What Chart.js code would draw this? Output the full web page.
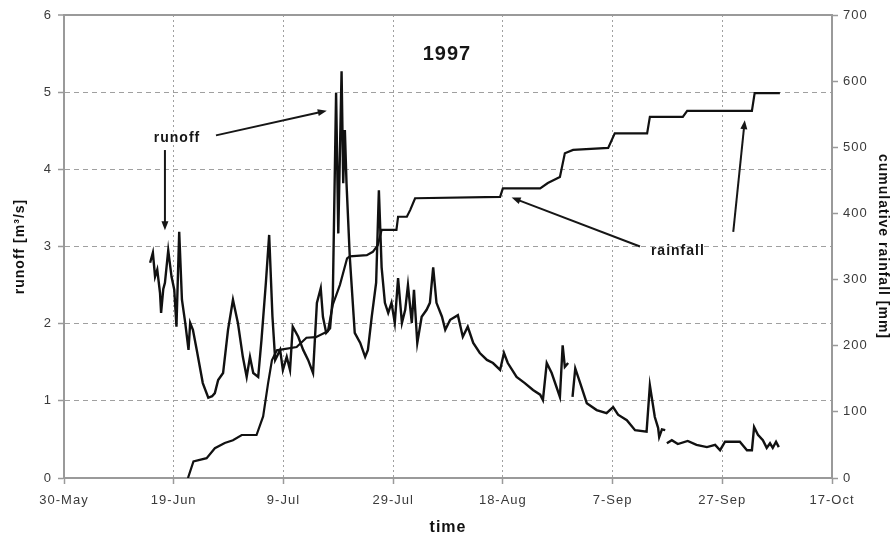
<!DOCTYPE html>
<html>
<head>
<meta charset="utf-8">
<script src="https://cdn.jsdelivr.net/npm/chart.js@4/dist/chart.umd.min.js"></script>
<style>
  html, body { margin: 0; padding: 0; background: #fff; }
  #wrap { position: relative; width: 892px; height: 537px; }
</style>
</head>
<body>
<div id="wrap"><canvas id="chart-runoff"></canvas></div>
<script>
'use strict';

/* ─── Data: days since 30 May 1997 ─────────────────────────── */
const xTickLabels = ['30-May', '19-Jun', '9-Jul', '29-Jul', '18-Aug', '7-Sep', '27-Sep', '17-Oct'];

const runoffDays = [
  15.7, 16.2, 16.6, 17.0, 17.5, 17.7, 18.1, 18.4, 19.0, 19.6,
  20.1, 20.5, 21.0, 21.5, 22.1, 22.7, 23.0, 23.5, 24.2, 25.3,
  26.3, 27.0, 27.5, 28.1, 29.0, 29.9, 30.8, 31.7, 32.6, 33.3,
  33.9, 34.5, 35.4, 36.0, 36.8, 37.4, 38.0, 38.5, 39.4, 39.9,
  40.6, 41.2, 41.7, 42.7, 43.6, 44.5, 45.4, 46.1, 46.8, 47.2,
  47.8, 48.5, 49.0, 49.6, 50.0, 50.6, 50.9, 51.2, 51.5, 52.1,
  53.0, 54.0, 54.9, 55.4, 56.1, 56.9, 57.4, 57.9, 58.5, 59.1,
  59.7, 60.3, 60.9, 61.6, 62.2, 62.7, 63.4, 63.8, 64.4, 65.2,
  66.1, 66.7, 67.3, 67.9, 68.9, 69.5, 70.4, 71.8, 72.7, 73.6,
  74.6, 75.8, 77.1, 78.2, 79.5, 80.2, 80.9, 82.5, 84.0, 85.5,
  86.8, 87.3, 88.0, 88.9, 90.4, 90.9, 91.3, 91.9, 92.3, 92.7,
  93.2, 94.1, 95.3, 97.1, 98.9, 100.1, 101.0, 102.6, 104.1, 106.2,
  106.8, 107.7, 108.3, 108.5, 109.0, 109.6, 109.7, 109.9, 110.8, 111.9,
  113.7, 115.3, 117.2, 118.7, 119.6, 120.5, 121.7, 123.2, 124.5, 125.4,
  125.8, 126.5, 127.4, 128.1, 128.7, 129.2, 129.8, 130.3
];
const runoffValues = [
  2.79, 2.92, 2.61, 2.70, 2.40, 2.14, 2.45, 2.53, 2.95, 2.61,
  2.44, 1.96, 3.19, 2.31, 2.01, 1.66, 2.01, 1.92, 1.66, 1.23,
  1.04, 1.06, 1.10, 1.27, 1.36, 1.92, 2.31, 2.01, 1.57, 1.31,
  1.57, 1.36, 1.31, 1.79, 2.53, 3.15, 2.09, 1.53, 1.66, 1.40,
  1.57, 1.40, 1.96, 1.83, 1.66, 1.53, 1.36, 2.27, 2.46, 2.09,
  1.88, 1.94, 2.35, 4.99, 3.17, 5.27, 3.82, 4.51, 3.82, 2.86,
  1.88, 1.75, 1.57, 1.66, 2.09, 2.53, 3.73, 2.73, 2.27, 2.14,
  2.27, 2.01, 2.59, 2.01, 2.18, 2.50, 2.01, 2.44, 1.75, 2.09,
  2.18, 2.27, 2.73, 2.27, 2.09, 1.92, 2.05, 2.11, 1.83, 1.96,
  1.75, 1.62, 1.53, 1.49, 1.40, 1.62, 1.49, 1.31, 1.23, 1.14,
  1.08, 1.01, 1.49, 1.36, 1.05, 1.72, 1.44, 1.49, null, 1.05,
  1.42, 1.23, 0.97, 0.88, 0.84, 0.92, 0.82, 0.75, 0.62, 0.60,
  1.20, 0.79, 0.65, 0.53, 0.63, 0.62, null, 0.45, 0.49, 0.44,
  0.48, 0.43, 0.40, 0.43, 0.36, 0.47, 0.47, 0.47, 0.36, 0.36,
  0.66, 0.56, 0.49, 0.39, 0.45, 0.39, 0.47, 0.40
];

const rainDays = [
  22.6, 23.6, 26.0, 27.5, 29.3, 30.8, 32.4, 35.1, 36.3, 37.2,
  37.9, 38.8, 42.4, 44.2, 45.9, 48.1, 49.0, 50.3, 51.6, 52.1,
  55.2, 56.3, 57.2, 57.9, 60.6, 60.9, 62.5, 63.1, 64.0, 79.5,
  80.0, 86.8, 88.2, 90.4, 91.3, 92.8, 99.2, 100.4, 106.3, 106.8,
  112.8, 113.6, 125.4, 125.9, 130.5
];
const rainValues = [
  0, 25, 30, 45, 53, 57, 65, 65, 93, 143,
  178, 193, 198, 212, 213, 222, 262, 292, 332, 335,
  337, 342, 352, 375, 375, 395, 395, 405, 423, 425,
  438, 438, 446, 455, 491, 496, 499, 521, 521, 546,
  546, 555, 555, 582, 582
];

/* ─── Callouts (day, axis value) ───────────────────────────── */
const labelNotes = [
  { text: '1997',     day: 69.8,  val: 5.49, axis: 'y',  size: 20 },
  { text: 'runoff',   day: 20.6,  val: 4.41, axis: 'y',  size: 14 },
  { text: 'rainfall', day: 111.9, val: 343,  axis: 'y2', size: 14 },
];
const arrowNotes = [
  { from: [18.4, 4.25],  to: [18.4, 3.21],  axis: 'y'  },
  { from: [27.7, 4.44],  to: [47.9, 4.76],  axis: 'y'  },
  { from: [105.0, 350],  to: [81.6, 424],   axis: 'y2' },
  { from: [122.0, 372],  to: [124.1, 541],  axis: 'y2' },
];

const FONT = "'Liberation Sans', Arial, Helvetica, sans-serif";
const AXIS_GREY = '#9a9a9a';
const GRID_GREY = '#a0a0a0';

const toPoints = (xs, ys) => xs.map((d, i) => ({ x: d, y: ys[i] }));

function drawArrow(ctx, x1, y1, x2, y2) {
  const ang = Math.atan2(y2 - y1, x2 - x1);
  const head = 9, half = 3.5;
  ctx.beginPath();
  ctx.moveTo(x1, y1);
  ctx.lineTo(x2 - Math.cos(ang) * head * 0.8, y2 - Math.sin(ang) * head * 0.8);
  ctx.stroke();
  ctx.beginPath();
  ctx.moveTo(x2, y2);
  ctx.lineTo(x2 - Math.cos(ang) * head - Math.sin(ang) * half,
             y2 - Math.sin(ang) * head + Math.cos(ang) * half);
  ctx.lineTo(x2 - Math.cos(ang) * head + Math.sin(ang) * half,
             y2 - Math.sin(ang) * head - Math.cos(ang) * half);
  ctx.closePath();
  ctx.fill();
}

/* widen all text a little, the old spreadsheet look */
const spacingPlugin = {
  id: 'spacing',
  beforeLayout(chart) { chart.ctx.letterSpacing = '1px'; },
  beforeDraw(chart)   { chart.ctx.letterSpacing = '1px'; },
};

const calloutPlugin = {
  id: 'callouts',
  afterDatasetsDraw(chart) {
    const { ctx, scales } = chart;
    const xs = scales.x;
    ctx.save();
    ctx.fillStyle = '#161616';
    ctx.strokeStyle = '#161616';
    ctx.lineWidth = 2;
    ctx.textAlign = 'center';
    ctx.textBaseline = 'middle';
    labelNotes.forEach(n => {
      ctx.font = `bold ${n.size}px ${FONT}`;
      ctx.fillText(n.text, xs.getPixelForValue(n.day), scales[n.axis].getPixelForValue(n.val));
    });
    arrowNotes.forEach(a => {
      const ys = scales[a.axis];
      drawArrow(ctx,
        xs.getPixelForValue(a.from[0]), ys.getPixelForValue(a.from[1]),
        xs.getPixelForValue(a.to[0]),   ys.getPixelForValue(a.to[1]));
    });
    ctx.restore();
  }
};

Chart.defaults.font.family = FONT;
Chart.defaults.font.size = 13;
Chart.defaults.color = '#3a3a3a';

new Chart(document.getElementById('chart-runoff'), {
  type: 'line',
  data: {
    datasets: [
      {
        label: 'runoff',
        data: toPoints(runoffDays, runoffValues),
        yAxisID: 'y',
        borderColor: '#111',
        borderWidth: 2.4,
        pointRadius: 0,
        tension: 0,
        spanGaps: false,
      },
      {
        label: 'cumulative rainfall',
        data: toPoints(rainDays, rainValues),
        yAxisID: 'y2',
        borderColor: '#111',
        borderWidth: 2.2,
        pointRadius: 0,
        tension: 0,
      },
    ],
  },
  options: {
    responsive: true,
    maintainAspectRatio: false,
    animation: false,
    layout: { padding: { top: 15, left: 0, right: 0, bottom: 0 } },
    plugins: { legend: { display: false }, tooltip: { enabled: false } },
    scales: {
      x: {
        type: 'linear',
        position: 'bottom',
        min: 0,
        max: 140,
        afterFit: s => { s.height = 59; },
        ticks: {
          stepSize: 20,
          autoSkip: false,
          maxRotation: 0,
          padding: 9,
          callback: v => xTickLabels[Math.round(v / 20)],
        },
        grid: { color: GRID_GREY, lineWidth: 1, tickLength: 6, tickColor: AXIS_GREY, tickWidth: 1.5 },
        border: { color: AXIS_GREY, width: 2, dash: [2, 3] },
        title: {
          display: true,
          text: 'time',
          color: '#111',
          font: { size: 16, weight: 'bold' },
          padding: { top: 0, bottom: 0 },
        },
      },
      y: {
        position: 'left',
        min: 0,
        max: 6,
        afterFit: s => { s.width = 64; },
        ticks: { stepSize: 1, padding: 6 },
        grid: {
          color: c => (c.tick && c.tick.value === 6 ? AXIS_GREY : GRID_GREY),
          lineWidth: c => (c.tick && c.tick.value === 6 ? 2 : 1),
          tickLength: 6,
          tickColor: AXIS_GREY,
          tickWidth: 1.5,
        },
        border: {
          color: AXIS_GREY,
          width: 2,
          dash: c => (c.tick && c.tick.value === 6 ? [] : [5, 4]),
        },
        title: {
          display: true,
          text: 'runoff [m³/s]',
          color: '#111',
          font: { size: 14, weight: 'bold' },
          padding: { top: 12, bottom: 0 },
        },
      },
      y2: {
        position: 'right',
        min: 0,
        max: 700,
        afterFit: s => { s.width = 60; },
        ticks: { stepSize: 100, padding: 5 },
        grid: { drawOnChartArea: false, tickLength: 6, tickColor: AXIS_GREY, tickWidth: 1.5 },
        border: { color: AXIS_GREY, width: 2 },
        title: {
          display: true,
          text: 'cumulative rainfall [mm]',
          color: '#111',
          font: { size: 14, weight: 'bold' },
          padding: { top: 1, bottom: 0 },
        },
      },
    },
  },
  plugins: [spacingPlugin, calloutPlugin],
});
</script>
</body>
</html>
